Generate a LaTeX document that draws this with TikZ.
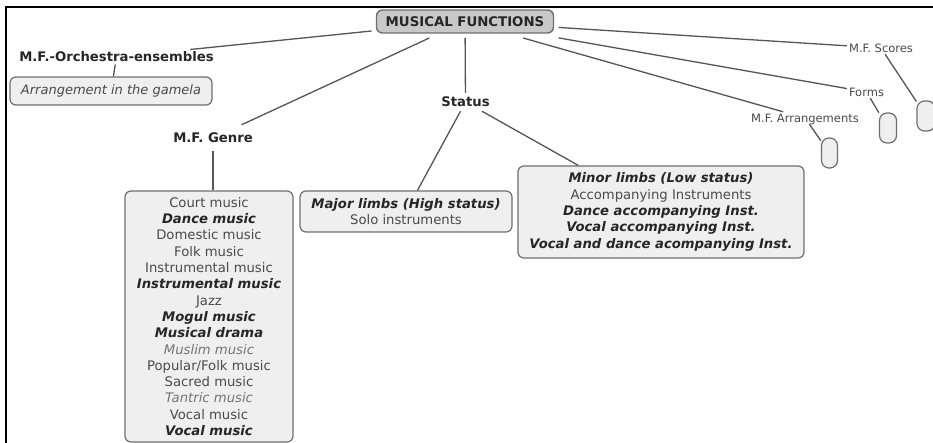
\documentclass[tikz,border=0pt]{standalone}
\usepackage{fontspec}
\setmainfont{DejaVu Sans}
\definecolor{linegray}{HTML}{555555}
\definecolor{boxedge}{HTML}{6E6E6E}
\definecolor{boxfill}{HTML}{EFEFEF}
\definecolor{mainfill}{HTML}{C8C8C8}
\definecolor{txtdark}{HTML}{262626}
\definecolor{txtmid}{HTML}{4A4A4A}
\definecolor{txtlight}{HTML}{757575}
% emphasis used in the list boxes
\newcommand\strongit[1]{{\bfseries\itshape\color{txtdark}#1}}
\newcommand\lightit[1]{{\itshape\color{txtlight}#1}}
\begin{document}
\begin{tikzpicture}[x=1pt,y=-1pt,
  conn/.style={draw=linegray, line width=1.3pt},
  lbl/.style={font=\fontsize{13.2}{16}\selectfont\bfseries, text=txtdark,
    inner xsep=3pt, text height=9.6pt, text depth=0pt},
  sublbl/.style={font=\fontsize{11.5}{14}\selectfont, text=txtmid,
    inner xsep=2pt, inner ysep=1.8pt, text height=8.4pt, text depth=0pt},
  mainbox/.style={draw=boxedge, fill=mainfill, line width=1.4pt, rounded corners=6pt,
    inner sep=0pt, outer sep=5pt, font=\fontsize{13.3}{16}\selectfont\bfseries, text=txtdark},
  listbox/.style={draw=boxedge, fill=boxfill, line width=1.2pt, rounded corners=6pt,
    align=center, inner sep=0pt, font=\fontsize{13.2}{16.3}\selectfont, text=txtmid},
  capsule/.style={draw=boxedge, fill=boxfill, line width=1.2pt, rounded corners=7.5pt,
    minimum height=30pt, inner sep=0pt},
]
\useasboundingbox (0,0) rectangle (933,443);
\clip (0,0) rectangle (933,443);

% frame
\draw[black, line width=2pt] (6,444) -- (6,7) -- (934,7);

% central concept
\node[mainbox, minimum width=177pt, minimum height=23pt] (mf) at (465,21.5) {MUSICAL FUNCTIONS};

% left branch: orchestra ensembles
\node[lbl, inner ysep=2.5pt] (orch) at (116.5,57) {M.F.-Orchestra-ensembles};
\node[listbox, minimum width=202pt, minimum height=28pt, font=\fontsize{13}{16}\selectfont\itshape]
  (gamela) at (111,91) {Arrangement in the gamela};

% genre branch
\node[lbl, inner ysep=8.2pt] (genre) at (213,138) {M.F. Genre};
\node[listbox, minimum width=168pt, minimum height=251pt] (genrebox) at (209,316.5) {%
  Court music\\
  \strongit{Dance music}\\
  Domestic music\\
  Folk music\\
  Instrumental music\\
  \strongit{Instrumental music}\\
  Jazz\\
  \strongit{Mogul music}\\
  \strongit{Musical drama}\\
  \lightit{Muslim music}\\
  Popular/Folk music\\
  Sacred music\\
  \lightit{Tantric music}\\
  Vocal music\\
  \strongit{Vocal music}};

% status branch
\node[lbl, inner ysep=4.2pt] (status) at (465.5,102) {Status};
\node[listbox, minimum width=212pt, minimum height=41pt] (major) at (406,211.5) {%
  \strongit{Major limbs (High status)}\\
  Solo instruments};
\node[listbox, minimum width=286pt, minimum height=92pt] (minor) at (661,212) {%
  \strongit{Minor limbs (Low status)}\\
  Accompanying Instruments\\
  \strongit{Dance accompanying Inst.}\\
  \strongit{Vocal accompanying Inst.}\\
  \strongit{Vocal and dance acompanying Inst.}};

% right branches
\node[sublbl] (arr) at (805,118) {M.F. Arrangements};
\node[sublbl] (forms) at (866.5,92) {Forms};
\node[sublbl] (scores) at (881,48) {M.F. Scores};
\node[capsule, minimum width=16pt] (cap1) at (829.5,153) {};
\node[capsule, minimum width=17pt] (cap2) at (888,128) {};
\node[capsule, minimum width=18pt] (cap3) at (926,116) {};

% connectors
\draw[conn] (mf) -- (orch);
\draw[conn] (orch) -- (gamela);
\draw[conn] (mf) -- (genre);
\draw[conn] (genre.south) -- (genre.south |- genrebox.north);
\draw[conn] (mf) -- (status);
\draw[conn] (status) -- (major);
\draw[conn] (status) -- (minor);
\draw[conn] (mf) -- (arr);
\draw[conn] (arr) -- (cap1);
\draw[conn] (mf) -- (forms);
\draw[conn] (forms) -- (cap2);
\draw[conn] (mf) -- (scores);
\draw[conn] (scores) -- (cap3);
\end{tikzpicture}
\end{document}
